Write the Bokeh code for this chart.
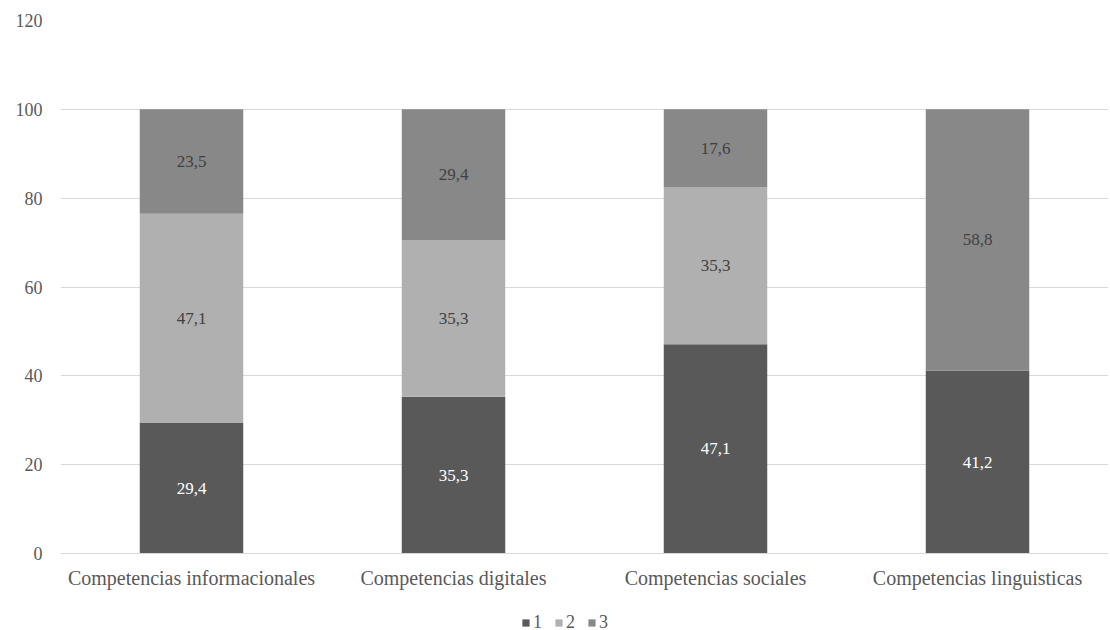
from bokeh.plotting import figure
from bokeh.layouts import column
from bokeh.models import ColumnDataSource, FactorRange, Legend, LegendItem, SingleIntervalTicker
from bokeh.core.properties import value
from bokeh.embed import file_html
from bokeh.resources import INLINE

categories = ["Competencias informacionales", "Competencias digitales",
              "Competencias sociales", "Competencias linguisticas"]
series_names = ["1", "2", "3"]
s1 = [29.4, 35.3, 47.1, 41.2]
s2 = [47.1, 35.3, 35.3, 0.0]
s3 = [23.5, 29.4, 17.6, 58.8]
colors = ["#595959", "#b0b0b0", "#888888"]
label_colors = ["#ffffff", "#404040", "#404040"]

FONT = "Liberation Serif"

src = ColumnDataSource(dict(cat=categories, s1=s1, s2=s2, s3=s3))

p = figure(x_range=FactorRange(*categories, range_padding=0), y_range=(0, 120),
           frame_width=1048, frame_height=533, output_backend="svg", toolbar_location=None,
           min_border_left=60, min_border_right=0, min_border_top=20, min_border_bottom=35)
p.outline_line_color = None
p.background_fill_color = "white"

renderers = p.vbar_stack(["s1", "s2", "s3"], x="cat", width=0.395, source=src,
                         color=colors, line_color=None)

# data labels
series = [s1, s2, s3]
for i, vals in enumerate(series):
    xs, ys, ts = [], [], []
    for j, c in enumerate(categories):
        base = sum(series[k][j] for k in range(i))
        if vals[j] > 0:
            xs.append(c)
            ys.append(base + vals[j] / 2)
            ts.append(("%.1f" % vals[j]).replace(".", ","))
    lsrc = ColumnDataSource(dict(x=xs, y=ys, t=ts))
    p.text(x="x", y="y", text="t", source=lsrc, text_align="center", text_baseline="middle",
           text_font=value(FONT), text_font_size="17px", text_color=label_colors[i])

# axes
p.yaxis.ticker = SingleIntervalTicker(interval=20)
p.yaxis.axis_line_color = None
p.yaxis.major_tick_line_color = None
p.yaxis.minor_tick_line_color = None
p.yaxis.major_label_text_font = FONT
p.yaxis.major_label_text_font_size = "18px"
p.yaxis.major_label_text_color = "#595959"
p.yaxis.major_label_standoff = 12

p.xaxis.axis_line_color = "#d9d9d9"
p.xaxis.major_tick_line_color = None
p.xaxis.minor_tick_line_color = None
p.xaxis.major_label_text_font = FONT
p.xaxis.major_label_text_font_size = "20px"
p.xaxis.major_label_text_color = "#595959"
p.xaxis.major_label_standoff = 7

p.xgrid.grid_line_color = None
p.ygrid.grid_line_color = "#d9d9d9"
p.ygrid.grid_line_width = 1

# legend in a slim companion figure below the chart (its frame is aligned with the chart's)
lg = figure(width=1108, height=42, x_range=(0, 1), y_range=(0, 1),
            output_backend="svg", toolbar_location=None,
            x_axis_location=None, y_axis_location=None,
            min_border_left=0, min_border_right=0, min_border_top=0, min_border_bottom=0)
lg.outline_line_color = None
lg.xgrid.grid_line_color = None
lg.ygrid.grid_line_color = None
dummy = ColumnDataSource(dict(x=[-10], top=[-10]))
lg_renderers = [lg.vbar(x="x", top="top", width=0.1, source=dummy, color=c, line_color=None)
                for c in colors]
legend = Legend(items=[LegendItem(label=n, renderers=[r]) for n, r in zip(series_names, lg_renderers)],
                orientation="horizontal", location=(461, 0),
                label_text_font=FONT, label_text_font_size="18px", label_text_color="#595959",
                glyph_width=9, glyph_height=9, label_standoff=3, label_width=9, spacing=12,
                padding=2, margin=0, border_line_color=None, background_fill_alpha=0)
lg.add_layout(legend)

layout = column(p, lg, spacing=0)
open("out.html", "w").write(file_html(layout, INLINE))
